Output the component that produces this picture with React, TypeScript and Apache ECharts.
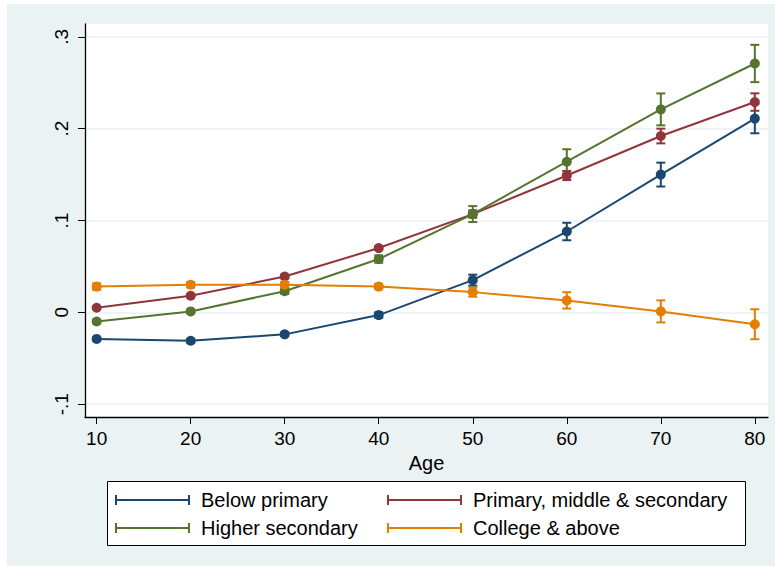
import React, { useEffect, useRef } from 'react';
import * as echarts from 'echarts';

// ages on the x axis
const ages = [10, 20, 30, 40, 50, 60, 70, 80];
const yTicks = [-0.1, 0, 0.1, 0.2, 0.3];
const yTickLabels = ['-.1', '0', '.1', '.2', '.3'];

// point estimates and half-widths of the confidence intervals
const belowPrimary = [-0.029, -0.031, -0.024, -0.003, 0.035, 0.088, 0.150, 0.211];
const belowPrimaryErr = [0.002, 0.002, 0.002, 0.003, 0.006, 0.0095, 0.013, 0.016];
const primaryMidSec = [0.005, 0.018, 0.039, 0.070, 0.107, 0.149, 0.192, 0.229];
const primaryMidSecErr = [0.001, 0.001, 0.002, 0.002, 0.004, 0.005, 0.008, 0.0095];
const higherSec = [-0.010, 0.001, 0.023, 0.058, 0.107, 0.164, 0.221, 0.271];
const higherSecErr = [0.002, 0.002, 0.003, 0.004, 0.0087, 0.0136, 0.0174, 0.0203];
const college = [0.028, 0.030, 0.030, 0.028, 0.022, 0.013, 0.001, -0.013];
const collegeErr = [0.0035, 0.003, 0.003, 0.003, 0.005, 0.0089, 0.012, 0.0163];

const names = ['Below primary', 'Primary, middle & secondary', 'Higher secondary', 'College & above'];
const colors = ['#1a476f', '#90353b', '#55752f', '#e37e00'];
const values = [belowPrimary, primaryMidSec, higherSec, college];
const errors = [belowPrimaryErr, primaryMidSecErr, higherSecErr, collegeErr];

const FONT = '"Liberation Sans", Arial, sans-serif';
const BG = '#eaf2f3';
const capIcon = 'path://M0,0h2v10h-2zM0,4h75v2h-75zM73,0h2v10h-2z';

export default function App() {
  const ref = useRef<HTMLDivElement | null>(null);

  useEffect(() => {
    if (!ref.current) return;
    const chart = echarts.init(ref.current, undefined, { renderer: 'svg' });

    const series: any[] = [];
    values.forEach((vals, i) => {
      const color = colors[i];
      series.push({
        name: names[i] + ' CI',
        type: 'custom',
        data: ages.map((a, j) => [a, vals[j] - errors[i][j], vals[j] + errors[i][j]]),
        encode: { x: 0, y: [1, 2] },
        silent: true,
        renderItem: (_p: any, api: any) => {
          const x = api.value(0);
          const lo = api.coord([x, api.value(1)]);
          const hi = api.coord([x, api.value(2)]);
          const w = 4.5;
          const style = { stroke: color, lineWidth: 2 };
          return {
            type: 'group',
            children: [
              { type: 'line', shape: { x1: lo[0], y1: lo[1], x2: hi[0], y2: hi[1] }, style },
              { type: 'line', shape: { x1: lo[0] - w, y1: lo[1], x2: lo[0] + w, y2: lo[1] }, style },
              { type: 'line', shape: { x1: hi[0] - w, y1: hi[1], x2: hi[0] + w, y2: hi[1] }, style },
            ],
          };
        },
      });
      series.push({
        name: names[i],
        type: 'line',
        data: ages.map((a, j) => [a, vals[j]]),
        symbol: 'circle',
        symbolSize: 10,
        showSymbol: true,
        lineStyle: { color, width: 2 },
        itemStyle: { color, borderWidth: 0 },
      });
    });

    const legendCommon = {
      orient: 'vertical',
      top: 485,
      itemWidth: 75,
      itemHeight: 10,
      itemGap: 8,
      icon: capIcon,
      selectedMode: false,
      itemStyle: { borderWidth: 0 },
      textStyle: { fontFamily: FONT, fontSize: 20, color: '#000', lineHeight: 20, padding: [0, 0, 0, 6] },
    };

    chart.setOption({
      animation: false,
      backgroundColor: '#fff',
      textStyle: { fontFamily: FONT },
      graphic: [
        { type: 'rect', z: -10, shape: { x: 7, y: 4, width: 768, height: 562 }, style: { fill: BG } },
        { type: 'rect', z: 2, shape: { x: 107.5, y: 481.5, width: 638, height: 64 }, style: { fill: '#fff', stroke: '#000', lineWidth: 1 } },
      ],
      grid: { left: 85, right: 7, top: 24, bottom: 149, show: true, backgroundColor: '#fff', borderWidth: 0 },
      legend: [
        { ...legendCommon, left: 110, data: [names[0], names[2]] },
        { ...legendCommon, left: 382, data: [names[1], names[3]] },
      ],
      xAxis: {
        type: 'value',
        min: 8.76,
        max: 81.4,
        name: 'Age',
        nameLocation: 'middle',
        nameGap: 27,
        nameTextStyle: { fontFamily: FONT, fontSize: 20, color: '#000' },
        axisLine: { onZero: false, lineStyle: { color: '#000', width: 1.3 } },
        axisTick: { customValues: ages, length: 7, lineStyle: { color: '#000', width: 1 } },
        axisLabel: { customValues: ages, margin: 12, fontFamily: FONT, fontSize: 19, color: '#000' },
        splitLine: { show: false },
      },
      yAxis: {
        type: 'value',
        min: -0.114,
        max: 0.314,
        axisLine: { show: true, onZero: false, lineStyle: { color: '#000', width: 1.3 } },
        axisTick: { show: true, customValues: yTicks, length: 7, lineStyle: { color: '#000', width: 1 } },
        axisLabel: {
          customValues: yTicks,
          rotate: 90,
          margin: 14,
          fontFamily: FONT,
          fontSize: 19,
          color: '#000',
          formatter: (v: number) => {
            const k = yTicks.findIndex((t) => Math.abs(t - v) < 1e-9);
            return k >= 0 ? yTickLabels[k] : '';
          },
        },
        splitLine: { show: true, lineStyle: { color: BG, width: 1.5 } },
      },
      series,
    });

    return () => {
      chart.dispose();
    };
  }, []);

  return <div ref={ref} style={{ position: 'absolute', left: 0, top: 0, width: 775, height: 566 }} />;
}
